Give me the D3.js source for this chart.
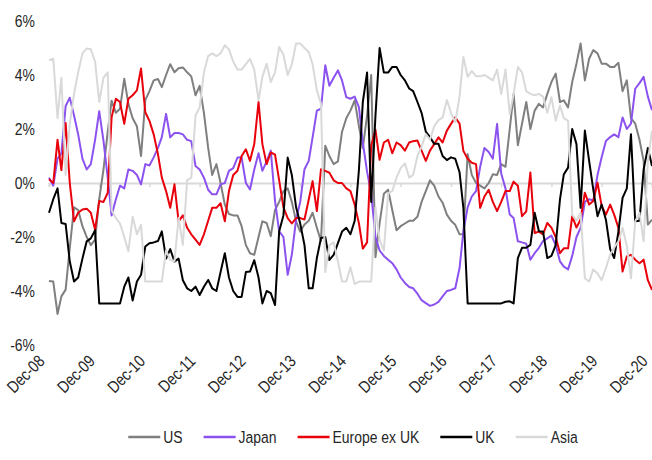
<!DOCTYPE html>
<html>
<head>
<meta charset="utf-8">
<script src="https://cdn.jsdelivr.net/npm/d3@7"></script>
<style>
  body { margin: 0; background: #fff; }
  text { font-family: "Liberation Sans", Arial, sans-serif; fill: #262626; }
</style>
</head>
<body>
<script>
// Monthly relative performance, Dec-08 .. Dec-20 (values in %)
var tickLabels = ["Dec-08","Dec-09","Dec-10","Dec-11","Dec-12","Dec-13","Dec-14",
                  "Dec-15","Dec-16","Dec-17","Dec-18","Dec-19","Dec-20"];
var yTicks = [-6, -4, -2, 0, 2, 4, 6];
var seriesNames = ["US", "Japan", "Europe ex UK", "UK", "Asia"];

var us = [-3.63,-3.65,-4.85,-4.2,-3.95,-2.4,-0.9,-1.0,-1.6,-2.0,-2.3,-2.1,-0.6,0.5,1.9,3.05,2.6,2.75,3.86,2.93,2.4,2.1,1.0,3.07,
  3.4,3.8,3.85,3.55,4.0,4.4,4.1,4.25,4.28,4.1,3.95,3.25,
  3.6,2.6,1.3,0.3,0.7,0.0,-0.8,-1.15,-1.2,-1.2,-1.6,-2.3,
  -2.6,-2.66,-2.0,-1.42,-1.48,-1.97,-1.0,-0.7,-0.3,-0.2,-0.7,-1.42,
  -1.8,-1.54,-1.4,-1.1,-1.66,-2.16,1.38,1.0,0.7,0.8,1.9,2.4,
  2.68,3.06,2.1,1.3,2.5,4.0,-2.75,-1.5,-0.4,-0.25,-1.0,-1.75,
  -1.6,-1.5,-1.4,-1.4,-1.25,-0.7,-0.3,0.1,-0.1,-0.5,-0.73,-1.17,
  -1.4,-1.55,-1.9,-1.9,1.07,0.3,0.0,-0.1,-0.2,0.0,0.32,0.3,
  0.7,0.6,2.0,3.3,1.4,2.19,3.0,2.0,2.68,2.93,2.8,3.3,
  3.74,4.05,3.0,3.06,2.8,3.74,4.42,5.17,3.8,4.6,4.92,4.8,
  4.42,4.42,4.3,4.3,4.45,3.4,3.8,2.4,2.2,1.6,0.82,-1.54,
  -1.36];

var japan = [0.2,-0.1,0.9,1.1,2.85,3.16,2.5,1.8,0.9,0.5,0.7,1.6,2.66,1.56,0.2,-1.2,-0.6,-0.1,-0.2,0.5,0.45,0.3,-0.05,0.7,
  0.65,0.95,1.3,1.7,2.56,1.69,1.85,1.85,1.8,1.6,1.55,0.63,
  0.5,0.2,-0.25,-0.42,-0.42,-0.05,0.0,0.45,0.55,0.94,0.95,0.0,
  -0.24,0.5,1.1,0.45,0.8,1.2,-0.67,-1.79,-2.0,-3.4,-2.66,-1.35,
  -0.7,0.51,0.82,1.69,2.68,2.75,4.36,3.6,3.9,4.17,3.8,3.18,
  3.12,3.2,2.8,1.5,0.42,-0.4,-2.0,-2.5,-2.7,-2.84,-2.97,-3.2,
  -3.5,-3.7,-3.85,-3.9,-4.1,-4.34,-4.45,-4.55,-4.5,-4.4,-4.2,-4.0,
  -3.96,-3.9,-3.15,-1.8,-0.9,-0.5,-0.3,0.6,1.3,1.15,0.9,2.19,
  0.35,-0.2,-1.17,-1.3,-2.16,-2.2,-2.25,-2.84,-2.6,-2.4,-2.15,-2.05,
  -1.95,-2.3,-2.9,-3.1,-3.2,-2.7,-2.0,-1.66,-0.7,-0.6,-0.65,0.3,
  0.95,1.56,1.7,1.8,1.7,2.43,2.0,2.2,3.49,3.7,3.93,3.2,
  2.7];

var europeExUk = [0.14,0.0,1.6,0.48,2.22,0.0,-1.42,-1.1,-0.98,-0.95,-1.1,-1.73,-0.67,-0.7,-0.36,2.43,3.12,3.0,2.19,3.12,3.25,3.43,4.24,2.62,
  2.3,1.8,1.07,0.2,-0.3,-0.92,-0.05,-1.42,-1.2,-1.66,-1.9,-2.1,
  -2.29,-1.9,-1.4,-0.92,-0.92,-0.75,-1.42,-0.3,0.3,0.45,1.0,1.25,
  0.82,1.44,3.0,1.44,0.7,1.13,1.05,0.1,-0.9,-1.3,-1.5,-1.3,
  -1.3,-1.35,-0.61,0.07,-1.04,0.51,0.45,0.38,0.1,0.0,0.0,-0.2,
  -0.3,-0.8,-1.5,-2.43,-2.2,1.4,1.97,0.86,1.5,1.6,1.1,1.5,
  1.4,1.2,1.5,1.55,1.57,1.2,0.82,1.2,1.44,1.69,1.5,1.94,
  2.19,2.43,2.2,1.19,0.9,0.75,0.7,-0.92,-0.5,-0.25,-0.7,-1.04,
  -0.7,-0.3,-0.3,0.05,-0.1,-1.23,-1.05,0.39,-1.85,-1.8,-1.9,-1.48,
  -1.65,-2.0,-2.6,-2.42,-2.42,-1.23,-1.65,-1.35,-0.36,-0.8,-0.67,0.01,
  -0.85,-1.17,-0.8,-1.17,-1.66,-3.28,-2.72,-2.66,-2.84,-2.97,-2.84,-3.6,
  -3.96];

var uk = [-1.1,-0.6,-0.2,-1.48,-1.52,-2.91,-3.65,-3.5,-2.8,-2.16,-2.05,-1.75,-4.46,-4.46,-4.46,-4.46,-4.46,-4.46,-3.84,-3.5,-4.35,-3.65,-3.4,-2.35,
  -2.23,-2.2,-2.15,-1.79,-2.8,-2.45,-2.91,-2.8,-3.6,-3.9,-4.0,-3.84,
  -4.15,-3.84,-3.59,-3.9,-4.0,-3.3,-2.6,-3.5,-4.0,-4.22,-4.22,-3.3,
  -3.28,-2.86,-3.5,-4.46,-4.0,-4.08,-4.52,-1.79,-1.2,0.94,0.3,-0.9,
  -1.5,-2.3,-3.9,-3.9,-2.78,-2.04,-2.0,-2.85,-2.66,-2.23,-1.8,-1.66,
  -1.9,-1.4,0.5,3.0,4.09,-0.7,2.5,5.0,4.09,4.09,4.3,4.3,
  4.0,3.8,3.5,3.4,3.0,2.6,1.9,1.7,1.45,1.45,1.0,0.85,
  0.95,0.9,0.4,-0.92,-4.46,-4.46,-4.46,-4.46,-4.46,-4.46,-4.46,-4.46,
  -4.46,-4.4,-4.38,-4.46,-2.78,-2.4,-2.4,-2.29,-1.1,-1.79,-1.8,-2.78,
  -2.7,-2.3,-0.61,0.32,0.57,2.0,1.44,-0.92,1.94,0.82,-0.24,-1.23,
  -0.8,-1.36,-2.45,-2.78,-1.8,-0.55,-0.2,1.81,-1.42,-1.4,0.5,1.3,
  0.63];

var asia = [4.55,4.6,2.4,3.9,0.3,2.2,3.3,4.1,4.8,4.98,4.95,4.5,3.0,3.9,4.1,-1.0,-1.3,-1.5,-2.0,-2.53,-1.25,-1.9,-1.55,-3.65,
  -3.65,-3.65,-3.65,-3.65,-2.5,-2.85,-2.9,-1.29,-2.29,0.1,0.2,2.5,
  2.8,4.1,4.7,4.8,4.7,4.8,5.1,4.95,4.5,4.2,4.2,4.4,
  4.6,4.2,3.06,3.93,4.42,3.74,4.1,5.04,4.75,3.99,4.4,5.17,
  5.17,5.0,4.85,4.4,3.43,2.93,-3.3,-2.3,-2.2,-2.9,-3.65,-3.65,
  -3.12,-3.74,-3.65,-3.65,-3.65,-3.65,-0.9,-2.1,-2.5,-0.38,-0.3,0.2,
  0.55,0.73,0.2,0.3,1.0,1.35,1.81,1.6,2.1,2.33,2.43,3.07,
  2.6,2.25,3.2,4.67,3.93,4.15,3.95,3.95,4.0,3.9,3.8,4.2,
  3.3,4.2,2.56,3.3,4.3,4.1,3.4,3.3,3.25,3.3,3.2,2.6,
  3.18,2.31,2.87,2.4,2.3,-1.17,-1.4,-1.1,-3.53,-3.65,-3.2,-3.35,
  -3.6,-3.15,-2.65,-2.4,-2.16,-1.66,-2.33,-3.53,-1.42,-1.1,-2.16,0.8,
  1.93];

var colors = ["#7f7f7f", "#8c52f0", "#e8000b", "#000000", "#d9d9d9"];
var allSeries = [us, japan, europeExUk, uk, asia];

// narrow look: Arial metrics squeezed horizontally
var squeeze = 0.82;
var fontSize = "17px";

// months Dec-08 .. Dec-20
var months = d3.timeMonth.range(new Date(2008, 11, 1), new Date(2021, 0, 1));
var tickDates = months.filter(function(d) { return d.getMonth() === 11; });

var width = 652, height = 460;

var svg = d3.select("body").append("svg")
    .attr("width", width)
    .attr("height", height);

var x = d3.scaleTime()
    .domain([months[0], months[months.length - 1]])
    .range([49, 652]);
var y = d3.scaleLinear().domain([-6, 6]).range([345, 21]);

// y labels
var yAxis = d3.axisLeft(y)
    .tickValues(yTicks)
    .tickSize(0)
    .tickPadding(0)
    .tickFormat(function(d) { return d + "%"; });

svg.append("g")
    .attr("transform", "translate(35,0)")
    .call(yAxis)
    .call(function(g) { g.select(".domain").remove(); })
    .selectAll("text")
        .style("font-size", fontSize)
        .attr("fill", "#262626")
        .attr("x", 0)
        .attr("transform", "scale(" + squeeze + ",1)");

// zero line with small ticks
var zeroAxis = d3.axisBottom(x)
    .tickValues(tickDates)
    .tickSize(4)
    .tickFormat("");

svg.append("g")
    .attr("transform", "translate(0," + y(0) + ")")
    .call(zeroAxis)
    .call(function(g) {
        g.select(".domain").attr("stroke", "#d9d9d9").attr("stroke-width", 2);
        g.selectAll(".tick line").attr("stroke", "#d9d9d9").attr("stroke-width", 1.5);
    });

// date labels at bottom
var xAxis = d3.axisBottom(x)
    .tickValues(tickDates)
    .tickSize(0)
    .tickFormat(function(d, i) { return tickLabels[i]; });

svg.append("g")
    .attr("transform", "translate(0,358)")
    .call(xAxis)
    .call(function(g) { g.select(".domain").remove(); })
    .selectAll("text")
        .style("font-size", fontSize)
        .attr("fill", "#262626")
        .attr("text-anchor", "end")
        .attr("x", 0)
        .attr("y", 0)
        .attr("dy", "0.35em")
        .attr("transform", "translate(-8,0) rotate(-45) scale(" + squeeze + ",1)");

// lines
var line = d3.line()
    .x(function(d, i) { return x(months[i]); })
    .y(function(d) { return y(d); });

svg.selectAll(".series")
    .data(allSeries)
    .enter().append("path")
        .attr("class", "series")
        .attr("fill", "none")
        .attr("stroke", function(d, i) { return colors[i]; })
        .attr("stroke-width", 2)
        .attr("stroke-linejoin", "round")
        .attr("d", line);

// legend
var legend = svg.append("g").attr("class", "legend");
var lx = 0;
seriesNames.forEach(function(name, i) {
    var item = legend.append("g").attr("transform", "translate(" + lx + ",0)");
    item.append("line")
        .attr("x1", 0).attr("x2", 32)
        .attr("y1", 0).attr("y2", 0)
        .attr("stroke", colors[i])
        .attr("stroke-width", 2.5);
    var t = item.append("text")
        .attr("x", 0)
        .attr("y", 0)
        .attr("dy", "0.35em")
        .attr("transform", "translate(35,0) scale(" + squeeze + ",1)")
        .style("font-size", fontSize)
        .text(name);
    lx += 35 + t.node().getComputedTextLength() * squeeze + 21;
});
var legendWidth = lx - 21;
legend.attr("transform", "translate(" + (353 - legendWidth / 2) + ",437)");
</script>
</body>
</html>
